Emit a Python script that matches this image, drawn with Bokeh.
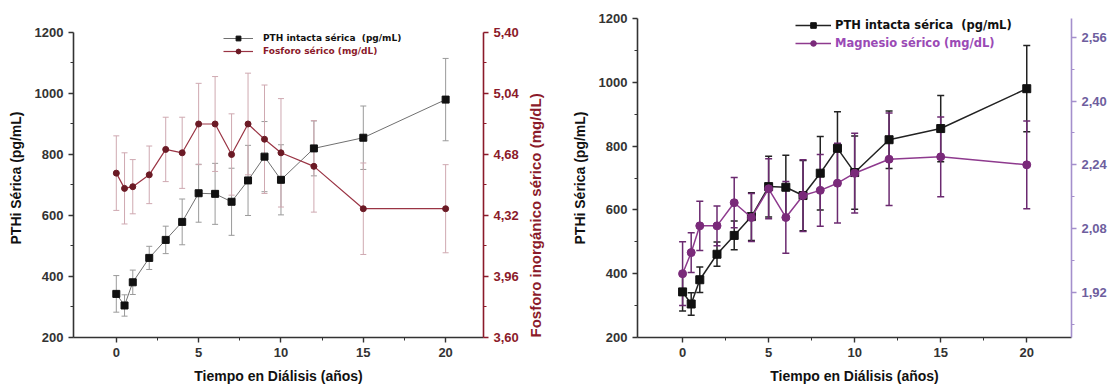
import math
from bokeh.plotting import figure
from bokeh.models import (Range1d, LinearAxis, FixedTicker, CustomJSTickFormatter, Whisker,
                          TeeHead, ColumnDataSource, Legend, LegendItem)
from bokeh.layouts import row
from bokeh.embed import file_html
from bokeh.resources import INLINE

# ---------------- data ----------------
years = [0, 0.5, 1, 2, 3, 4, 5, 6, 7, 8, 9, 10, 12, 15, 20]
pth = [343, 305, 381, 461, 520, 579, 673, 671, 645, 715, 793, 717, 820, 855, 980]
pth_err = [60, 35, 40, 38, 45, 75, 95, 100, 110, 115, 115, 115, 90, 104, 135]
phos = [4.57, 4.48, 4.49, 4.56, 4.71, 4.69, 4.86, 4.86, 4.68, 4.86, 4.77, 4.69, 4.61, 4.36, 4.36]
phos_err = [0.22, 0.21, 0.16, 0.17, 0.19, 0.21, 0.24, 0.28, 0.24, 0.30, 0.32, 0.32, 0.27, 0.27, 0.26]
mg = [1.967, 2.02, 2.087, 2.087, 2.145, 2.108, 2.18, 2.108, 2.163, 2.176, 2.194, 2.219, 2.254, 2.26, 2.24]
mg_err = [0.08, 0.05, 0.062, 0.05, 0.063, 0.06, 0.075, 0.09, 0.09, 0.09, 0.10, 0.10, 0.116, 0.10, 0.11]

x_ticks = [0, 5, 10, 15, 20]
x_minor = [2.5, 7.5, 12.5, 17.5]
pth_ticks = [200, 400, 600, 800, 1000, 1200]
pth_minor = [300, 500, 700, 900, 1100]
phos_ticks = [3.60, 3.96, 4.32, 4.68, 5.04, 5.40]
phos_minor = [3.78, 4.14, 4.50, 4.86, 5.22]
mg_ticks = [1.92, 2.08, 2.24, 2.40, 2.56]
mg_minor = [1.84, 2.00, 2.16, 2.32, 2.48]

lbl_pth = "PTH intacta sérica  (pg/mL)"
lbl_phos = "Fosforo sérico (mg/dL)"
lbl_mg = "Magnesio sérico (mg/dL)"
ylab = "PTHi Sérica (pg/mL)"
xlab = "Tiempo en Diálisis (años)"
ylab_phos = "Fosforo inorgánico sérico (mg/dL)"

FONT = "Liberation Sans"
LFONT = "DejaVu Sans"

src = ColumnDataSource(dict(
    x=years, pth=pth,
    pth_lo=[v - e for v, e in zip(pth, pth_err)], pth_hi=[v + e for v, e in zip(pth, pth_err)],
    phos=phos,
    phos_lo=[v - e for v, e in zip(phos, phos_err)], phos_hi=[v + e for v, e in zip(phos, phos_err)],
    mg=mg,
    mg_lo=[v - e for v, e in zip(mg, mg_err)], mg_hi=[v + e for v, e in zip(mg, mg_err)],
))

comma_fmt = CustomJSTickFormatter(code="return tick.toFixed(2).replace('.', ',');")


def style_axis(ax, color="#333333", label_color="#333333"):
    ax.axis_line_width = 1.6
    ax.axis_line_color = color
    ax.major_tick_line_color = color
    ax.minor_tick_line_color = color
    ax.major_tick_out = 5
    ax.major_tick_in = 0
    ax.minor_tick_out = 3
    ax.minor_tick_in = 0
    ax.major_tick_line_width = 1.4
    ax.major_label_text_font = FONT
    ax.major_label_text_font_size = "13px"
    ax.major_label_text_font_style = "bold"
    ax.major_label_text_color = label_color
    ax.axis_label_text_font = FONT
    ax.axis_label_text_font_size = "14px"
    ax.axis_label_text_font_style = "bold"
    ax.axis_label_text_color = "#111111"


def base_fig(width, xr, yr, left, right):
    p = figure(width=width, height=387, x_range=Range1d(*xr), y_range=Range1d(*yr),
               output_backend="svg", toolbar_location=None,
               min_border_left=left, min_border_right=right,
               min_border_top=18, min_border_bottom=50)
    p.outline_line_color = None
    p.xgrid.visible = False
    p.ygrid.visible = False
    p.background_fill_color = "white"
    p.border_fill_color = "white"
    p.xaxis.ticker = FixedTicker(ticks=x_ticks, minor_ticks=x_minor)
    p.yaxis.ticker = FixedTicker(ticks=pth_ticks, minor_ticks=pth_minor)
    p.yaxis.bounds = (200, 1200)
    p.xaxis.axis_label = xlab
    p.yaxis.axis_label = ylab
    p.xaxis.major_label_standoff = 5
    p.xaxis.axis_label_standoff = 8
    p.yaxis.axis_label_standoff = 8
    style_axis(p.xaxis[0])
    style_axis(p.yaxis[0])
    return p


def add_legend(p, item, loc, col, size, gw, standoff, h):
    lg = Legend(items=[item], location=loc, padding=0, margin=0, spacing=0,
                glyph_width=gw, glyph_height=h, label_height=h, label_standoff=standoff,
                label_text_font=LFONT, label_text_font_size=size, label_text_font_style="bold",
                label_text_color=col, background_fill_color=None, border_line_color=None)
    p.add_layout(lg)


# ---------------- left panel ----------------
# frame spans 18..337 px; the axes themselves stop at 1200 / 5,40 (y = 32 px)
p1 = base_fig(555, (-2.6, 22.3), (200, 1245.9), 73, 70)
p1.extra_y_ranges = {"phos": Range1d(3.60, 5.4826)}
ax_r = LinearAxis(y_range_name="phos", ticker=FixedTicker(ticks=phos_ticks, minor_ticks=phos_minor),
                  formatter=comma_fmt, axis_label=ylab_phos, bounds=(3.60, 5.40))
style_axis(ax_r, color="#8b1a2a", label_color="#8b1a2a")
ax_r.axis_label_text_color = "#8b1a2a"
ax_r.axis_label_text_font_size = "15px"
ax_r.axis_label_orientation = math.pi / 2
ax_r.axis_label_align = "start"
ax_r.axis_label_standoff = 14
p1.add_layout(ax_r, "right")

red = "#9a3444"
w1 = Whisker(source=src, base="x", lower="pth_lo", upper="pth_hi", line_color="#9a9a9a", line_width=1,
             upper_head=TeeHead(size=6, line_color="#9a9a9a", line_width=1),
             lower_head=TeeHead(size=6, line_color="#9a9a9a", line_width=1))
w2 = Whisker(source=src, base="x", lower="phos_lo", upper="phos_hi", line_color="#cfa9b1", line_width=1,
             upper_head=TeeHead(size=6, line_color="#cfa9b1", line_width=1),
             lower_head=TeeHead(size=6, line_color="#cfa9b1", line_width=1),
             y_range_name="phos")
p1.add_layout(w1)
p1.add_layout(w2)
l1 = p1.line("x", "pth", source=src, line_color="#707070", line_width=1)
m1 = p1.scatter("x", "pth", source=src, marker="square", size=7, color="#111111")
l2 = p1.line("x", "phos", source=src, line_color=red, line_width=1.2, y_range_name="phos")
m2 = p1.scatter("x", "phos", source=src, marker="circle", size=6, color="#6b1a25", y_range_name="phos")

add_legend(p1, LegendItem(label=lbl_phos, renderers=[l2, m2]), (150, 280), "#8b1a2a", "9px", 30, 10, 12)
add_legend(p1, LegendItem(label=lbl_pth, renderers=[l1, m1]), (150, 293), "#111111", "9px", 30, 10, 12)

# ---------------- right panel ----------------
p2 = base_fig(558, (-2.62, 22.6), (200, 1200), 82, 42)
p2.extra_y_ranges = {"mg": Range1d(1.807, 2.607)}
ax_m = LinearAxis(y_range_name="mg", ticker=FixedTicker(ticks=mg_ticks, minor_ticks=mg_minor),
                  formatter=comma_fmt)
style_axis(ax_m, color="#a48fcc", label_color="#6e5e9e")
p2.add_layout(ax_m, "right")

purple = "#8e3a8e"
w3 = Whisker(source=src, base="x", lower="pth_lo", upper="pth_hi", line_color="#222222", line_width=1.5,
             upper_head=TeeHead(size=7, line_color="#222222", line_width=1.5),
             lower_head=TeeHead(size=7, line_color="#222222", line_width=1.5))
w4 = Whisker(source=src, base="x", lower="mg_lo", upper="mg_hi", line_color="#6b2a70", line_width=1.5,
             upper_head=TeeHead(size=7, line_color="#6b2a70", line_width=1.5),
             lower_head=TeeHead(size=7, line_color="#6b2a70", line_width=1.5),
             y_range_name="mg")
p2.add_layout(w3)
p2.add_layout(w4)
l3 = p2.line("x", "pth", source=src, line_color="#222222", line_width=1.5)
m3 = p2.scatter("x", "pth", source=src, marker="square", size=8, color="#111111")
l4 = p2.line("x", "mg", source=src, line_color=purple, line_width=1.5, y_range_name="mg")
m4 = p2.scatter("x", "mg", source=src, marker="circle", size=8, color="#7a2a7a", y_range_name="mg")

add_legend(p2, LegendItem(label=lbl_mg, renderers=[l4, m4]), (158, 287), "#9a4ab5", "11.5px", 36, 4, 14)
add_legend(p2, LegendItem(label=lbl_pth, renderers=[l3, m3]), (158, 305), "#111111", "11.5px", 36, 4, 14)

layout = row(p1, p2, spacing=0)
open("out.html", "w").write(file_html(layout, INLINE))
